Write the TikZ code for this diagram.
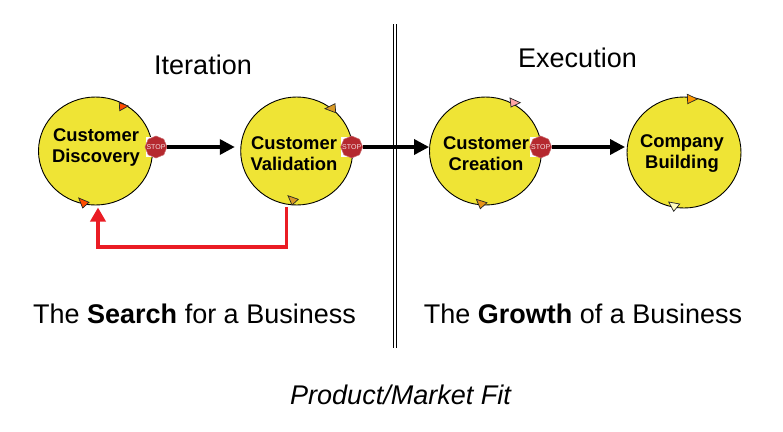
\documentclass[tikz,border=0pt]{standalone}
\usepackage{fontspec}
\setmainfont{Liberation Sans}
\usetikzlibrary{shapes.geometric,arrows.meta}
\definecolor{disc}{HTML}{EFE435}
\definecolor{stopred}{HTML}{B5292F}
\definecolor{redline}{HTML}{EA1C24}
\tikzset{
  phase/.style={ellipse,draw=black,line width=0.9pt,fill=disc,inner sep=0pt},
  phasetext/.style={align=center,font=\fontsize{18.4}{21.5}\selectfont\bfseries},
  stopsign/.style={regular polygon,regular polygon sides=8,shape border rotate=22.5,fill=stopred,
    draw=stopred!70!white,line width=0.5pt,minimum size=22pt,inner sep=0pt},
  stoptext/.style={text=white!85!stopred,inner sep=0pt,font=\fontsize{7}{8}\selectfont},
  stopback/.style={fill=white,draw=none,minimum size=20pt,inner sep=0pt},
  flow/.style={line width=3.4pt,draw=black,-{Triangle[length=15pt,width=15pt]}},
  feedback/.style={line width=3.6pt,draw=redline,-{Triangle[length=14pt,width=15pt]}},
  marker/.style={draw=black!85,line width=0.7pt,line join=miter},
  bigtext/.style={font=\fontsize{27}{32}\selectfont}
}
\begin{document}
\begin{tikzpicture}[x=1pt,y=-1pt]
\useasboundingbox[fill=white] (0,0) rectangle (783,431);
% divider
\coordinate (divtop) at (395.2,24);
\coordinate (divbot) at (395.2,348);
\draw[black,line width=0.9pt] ([xshift=-1.3pt]divtop) -- ([xshift=-1.3pt]divbot);
\draw[black,line width=0.9pt] ([xshift=1.3pt]divtop) -- ([xshift=1.3pt]divbot);
% phases
\node[phase,minimum width=114pt,minimum height=108pt] (c1) at (95.5,151) {};
\node[phase,minimum width=112pt,minimum height=108pt] (c2) at (296.7,151) {};
\node[phase,minimum width=112pt,minimum height=108pt] (c3) at (485.5,151) {};
\node[phase,minimum width=114pt,minimum height=111pt] (c4) at (684,152.5) {};
\node[phasetext] (t1) at (96,147.5) {Customer\\Discovery};
\node[phasetext] (t2) at (294,153.5) {Customer\\Validation};
\node[phasetext] (t3) at (486,153.5) {Customer\\Creation};
\node[phasetext] (t4) at (682,153.5) {Company\\Building};
% stop signs
\node[stopback] (b1) at (156,147) {};
\node[stopback] (b2) at (351,147) {};
\node[stopback] (b3) at (540,147) {};
\node[stopsign] (s1) at (156,147) {};
\node[stopsign] (s2) at (351.7,147) {};
\node[stopsign] (s3) at (540.7,147) {};
\node[stoptext] (l1) at (s1) {STOP};
\node[stoptext] (l2) at (s2) {STOP};
\node[stoptext] (l3) at (s3) {STOP};
% arrows
\draw[flow,shorten >=5.5pt] (s1) -- (c2.west |- s1);
\draw[flow] (s2) -- (c3.west |- s2);
\draw[flow,shorten >=1.5pt] (s3) -- (c4.west |- s3);
% feedback
\coordinate (fbstart) at (286.5,207);
\coordinate (fbend) at (98,207.5);
\draw[feedback] (fbstart) |- (98,247) -- (fbend);
% markers
\draw[marker,fill=orange!60!red] (119.3,102.7) -- (128.3,106) -- (119.7,110.7) -- cycle;
\draw[marker,fill=orange!60!red] (78.7,198) -- (89,202.3) -- (82.7,208) -- cycle;
\draw[marker,fill=orange!70!yellow!70!gray] (335,103.7) -- (325,108.7) -- (335.7,112.7) -- cycle;
\draw[marker,fill=orange!70!yellow!70!gray] (288,195.7) -- (298.3,199.3) -- (292,205) -- cycle;
\draw[marker,fill=red!35!white] (510,98) -- (520.3,102.7) -- (511,107) -- cycle;
\draw[marker,fill=orange!80!yellow!80!gray] (476.3,199.3) -- (487,202.7) -- (480.3,208.7) -- cycle;
\draw[marker,fill=orange!80!yellow] (687.3,94.3) -- (697.3,99) -- (687.7,103.7) -- cycle;
\draw[marker,fill=yellow!25!white] (668.7,202) -- (679.7,204) -- (673.7,211.3) -- cycle;
% labels
\node[bigtext] (iter) at (203,64.7) {Iteration};
\node[bigtext] (exec) at (577.5,57.7) {Execution};
\node[bigtext] (search) at (194.5,313.7) {The \textbf{Search} for a Business};
\node[bigtext] (growth) at (583,313.7) {The \textbf{Growth} of a Business};
\node[font=\fontsize{27}{32}\selectfont\itshape] (pmf) at (400.5,394.7) {Product/Market Fit};
\end{tikzpicture}
\end{document}
